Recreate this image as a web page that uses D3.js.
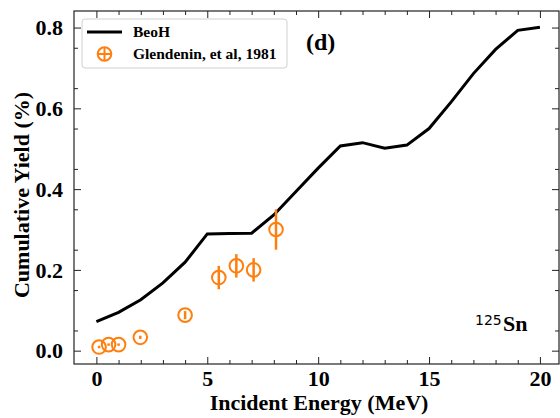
<!DOCTYPE html>
<html lang="en">
<head>
<meta charset="UTF-8"/>
<title>Cumulative yield 125Sn</title>
<script src="https://d3js.org/d3.v7.min.js"></script>
<style>
	body { margin: 0; background: #fff; }
	svg text { font-family: "Liberation Serif", "Times New Roman", Times, serif; font-weight: bold; fill: #000; }
</style>
</head>
<body>
<script>

	var w = 560;
	var h = 418;
	var margin = {left: 74, right: 1, top: 11, bottom: 54};

	// BeoH calculation
	var beohEnergy = [0, 1, 2, 3, 4, 5, 6, 7, 8, 9, 10, 11, 12, 13, 14, 15, 16, 17, 18, 19, 20];
	var beohYield = [0.072, 0.095, 0.126, 0.168, 0.219, 0.289, 0.290, 0.291, 0.336, 0.394, 0.452, 0.507, 0.515, 0.501, 0.509, 0.550, 0.616, 0.686, 0.746, 0.793, 0.801];

	// Glendenin et al, 1981
	var expEnergy = [0.12, 0.55, 1.0, 1.98, 4.0, 5.52, 6.31, 7.09, 8.1];
	var expYield = [0.009, 0.015, 0.015, 0.033, 0.088, 0.181, 0.210, 0.200, 0.300];
	var expError = [0.003, 0.003, 0.003, 0.004, 0.010, 0.029, 0.029, 0.029, 0.050];

	var xTicks = [0, 5, 10, 15, 20];
	var yTicks = [0.0, 0.2, 0.4, 0.6, 0.8];

	var orange = "#ff7f0e";
	var serif = "'Liberation Serif', 'Times New Roman', serif";

	var xScale = d3.scaleLinear()
				.domain([-1.01, 20.86])
				.range([margin.left, w - margin.right]);

	var yScale = d3.scaleLinear()
				.domain([-0.033, 0.841])
				.range([h - margin.bottom, margin.top]);

	var svg = d3.select("body")
				.append("svg")
				.attr("width", w)
				.attr("height", h);

	var x0 = margin.left, x1 = w - margin.right;
	var y0 = h - margin.bottom, y1 = margin.top;

	// minor ticks: every 1 MeV and every 0.05
	var xMinor = d3.range(0, 21, 1).filter(function(d) { return d % 5 != 0; });
	var yMinor = d3.range(1, 17, 2).map(function(d) { return d * 0.05; });

	function ticksOnly(axis, len, vals) {
		return axis.tickValues(vals).tickSizeInner(len).tickSizeOuter(0).tickFormat("");
	}

	// bottom (with labels)
	var gx = svg.append("g").attr("transform", "translate(0," + y0 + ")")
		.call(d3.axisTop(xScale).tickValues(xTicks).tickSize(7).tickSizeOuter(0).tickFormat(d3.format("d")));
	svg.append("g").attr("transform", "translate(0," + y0 + ")")
		.call(ticksOnly(d3.axisTop(xScale), 4, xMinor));
	// top
	svg.append("g").attr("transform", "translate(0," + y1 + ")")
		.call(ticksOnly(d3.axisBottom(xScale), 7, xTicks));
	svg.append("g").attr("transform", "translate(0," + y1 + ")")
		.call(ticksOnly(d3.axisBottom(xScale), 4, xMinor));
	// left (with labels)
	var gy = svg.append("g").attr("transform", "translate(" + x0 + ",0)")
		.call(d3.axisRight(yScale).tickValues(yTicks).tickSize(7).tickSizeOuter(0).tickFormat(d3.format(".1f")));
	svg.append("g").attr("transform", "translate(" + x0 + ",0)")
		.call(ticksOnly(d3.axisRight(yScale), 4, yMinor));
	// right
	svg.append("g").attr("transform", "translate(" + x1 + ",0)")
		.call(ticksOnly(d3.axisLeft(yScale), 7, yTicks));
	svg.append("g").attr("transform", "translate(" + x1 + ",0)")
		.call(ticksOnly(d3.axisLeft(yScale), 4, yMinor));

	svg.selectAll(".domain").remove();
	svg.selectAll(".tick line").attr("stroke", "#222").attr("stroke-width", 1);

	// tick labels outside the frame
	gx.selectAll(".tick text")
		.attr("y", 22).attr("dy", 0)
		.style("font-size", "22px").style("font-family", serif);
	gy.selectAll(".tick text")
		.attr("x", -11).attr("text-anchor", "end").attr("dy", "0.33em")
		.style("font-size", "22px").style("font-family", serif);

	// frame
	svg.append("rect")
		.attr("x", x0).attr("y", y1)
		.attr("width", x1 - x0).attr("height", y0 - y1)
		.attr("fill", "none").attr("stroke", "#222").attr("stroke-width", 1.2);

	// BeoH line
	var line = d3.line()
		.x(function(d, i) { return xScale(beohEnergy[i]); })
		.y(function(d) { return yScale(d); });

	svg.append("path")
		.datum(beohYield)
		.attr("d", line)
		.attr("fill", "none")
		.attr("stroke", "#000")
		.attr("stroke-width", 3);

	// experimental points with error bars
	var pts = svg.append("g").selectAll("g")
		.data(expYield)
		.enter()
		.append("g");

	pts.append("line")
		.attr("x1", function(d, i) { return xScale(expEnergy[i]); })
		.attr("x2", function(d, i) { return xScale(expEnergy[i]); })
		.attr("y1", function(d, i) { return yScale(d - expError[i]); })
		.attr("y2", function(d, i) { return yScale(d + expError[i]); })
		.attr("stroke", orange)
		.attr("stroke-width", 2.5);

	pts.append("circle")
		.attr("cx", function(d, i) { return xScale(expEnergy[i]); })
		.attr("cy", function(d) { return yScale(d); })
		.attr("r", 6.8)
		.attr("fill", "none")
		.attr("stroke", orange)
		.attr("stroke-width", 2);

	// legend
	var lg = svg.append("g");
	lg.append("rect")
		.attr("x", 82).attr("y", 19).attr("width", 205).attr("height", 49)
		.attr("rx", 3)
		.attr("fill", "#fff").attr("fill-opacity", 0.8)
		.attr("stroke", "#d0d0d0").attr("stroke-width", 1);
	lg.append("line")
		.attr("x1", 87).attr("x2", 122).attr("y1", 32).attr("y2", 32)
		.attr("stroke", "#000").attr("stroke-width", 3);
	lg.append("text").attr("x", 133).attr("y", 37).style("font-size", "15.5px").text("BeoH");
	lg.append("circle")
		.attr("cx", 104.5).attr("cy", 54).attr("r", 6.8)
		.attr("fill", "none").attr("stroke", orange).attr("stroke-width", 2);
	lg.append("line")
		.attr("x1", 104.5).attr("x2", 104.5).attr("y1", 47).attr("y2", 61)
		.attr("stroke", orange).attr("stroke-width", 2);
	lg.append("line")
		.attr("x1", 97.5).attr("x2", 111.5).attr("y1", 54).attr("y2", 54)
		.attr("stroke", orange).attr("stroke-width", 2);
	lg.append("text").attr("x", 133).attr("y", 59).style("font-size", "15.5px").text("Glendenin, et al, 1981");

	// annotations
	svg.append("text").attr("x", 306).attr("y", 50).style("font-size", "24px").text("(d)");

	svg.append("text").attr("x", 475).attr("y", 325)
		.style("font-family", "'DejaVu Sans', sans-serif").style("font-weight", "normal")
		.style("font-size", "14px").text("125");
	svg.append("text").attr("x", 503).attr("y", 331).style("font-size", "22px").text("Sn");

	// axis titles
	svg.append("text")
		.attr("x", 319).attr("y", 410)
		.attr("text-anchor", "middle").style("font-size", "22px")
		.text("Incident Energy (MeV)");

	svg.append("text")
		.attr("transform", "translate(29,195) rotate(-90)")
		.attr("text-anchor", "middle").style("font-size", "22px")
		.text("Cumulative Yield (%)");

</script>
</body>
</html>
